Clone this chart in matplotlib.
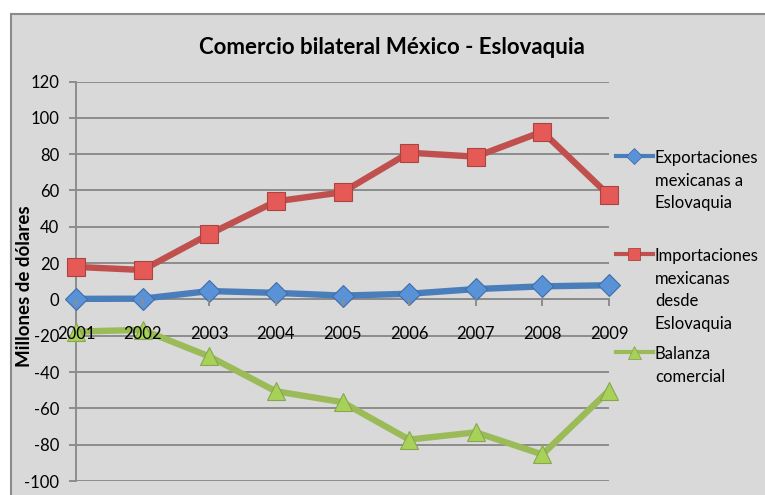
import matplotlib.pyplot as plt
from matplotlib.lines import Line2D
from matplotlib.patches import Rectangle

plt.rcParams['font.family'] = ['Lato', 'DejaVu Sans']
plt.rcParams['axes.unicode_minus'] = False

# datos (millones de dolares)
years = [2001, 2002, 2003, 2004, 2005, 2006, 2007, 2008, 2009]
exportaciones = [0.3, 0.4, 4.6, 3.6, 2.1, 3.1, 5.7, 7.2, 7.8]
importaciones = [17.9, 16.2, 35.9, 54.0, 59.0, 80.8, 78.6, 92.4, 57.3]
balanza = [-17.7, -16.8, -31.4, -50.6, -56.6, -77.2, -73.2, -85.4, -50.2]

labels = ['Exportaciones\nmexicanas a\nEslovaquia',
          'Importaciones\nmexicanas\ndesde\nEslovaquia',
          'Balanza\ncomercial']

W, H = 765, 495
fig = plt.figure(figsize=(W / 100, H / 100), dpi=100)
fig.patch.set_facecolor('white')
# fondo gris del grafico
fig.add_artist(Rectangle((11 / W, -0.01), 1.0, (H - 14) / H + 0.01,
                         transform=fig.transFigure, facecolor='#d9d9d9',
                         edgecolor='#8a8a8a', linewidth=1.5, zorder=-5))

ax = fig.add_axes([76 / W, (H - 481) / H, (609 - 76) / W, (481 - 81.5) / H])
ax.set_facecolor('none')

grid_c = '#8c8c8c'
ax.set_ylim(-100, 120)
ax.set_yticks(range(-100, 121, 20))
ax.set_xlim(2001, 2009)
ax.set_xticks(years)
ax.yaxis.grid(True, color=grid_c, linewidth=1.4)
ax.set_axisbelow(True)
for s in ['top', 'right']:
    ax.spines[s].set_visible(False)
ax.spines['left'].set_color(grid_c)
ax.spines['left'].set_linewidth(1.4)
ax.spines['bottom'].set_position(('data', 0))
ax.spines['bottom'].set_color(grid_c)
ax.spines['bottom'].set_linewidth(1.4)
ax.tick_params(axis='y', length=5, width=1.4, color=grid_c, labelsize=12, pad=7)
ax.tick_params(axis='x', length=5, width=1.4, color=grid_c, labelsize=12,
               direction='out', pad=14)
ax.xaxis.set_zorder(5)

series = [
    (exportaciones, '#4a7ebb', 'D', '#5a92d8', '#3f6ea8', 11),
    (importaciones, '#c0504d', 's', '#e55a56', '#a94441', 12.5),
    (balanza, '#9bbb59', '^', '#a8d15a', '#86a84a', 13),
]
for vals, c, m, fc, ec, ms in series:
    ax.plot(years, vals, color=c, linewidth=4.6, marker=m, markersize=ms,
            markerfacecolor=fc, markeredgecolor=ec, markeredgewidth=0.8,
            clip_on=False, zorder=3)

fig.text(392 / W, 1 - 48 / H, 'Comercio bilateral México - Eslovaquia',
         ha='center', va='center', fontsize=16, fontweight='bold')
fig.text(25 / W, 1 - 286 / H, 'Millones de dólares', rotation=90,
         ha='center', va='center', fontsize=13.5, fontweight='bold')

# leyenda a la derecha
line_h = 22.7
first_y = [156, 254, 352]
for (vals, c, m, fc, ec, ms), lab, y0 in zip(series, labels, first_y):
    yf = 1 - y0 / H
    fig.add_artist(Line2D([616 / W, 653 / W], [yf, yf], color=c, linewidth=3,
                          transform=fig.transFigure))
    fig.add_artist(Line2D([634 / W], [yf], color=c, marker=m, markersize=ms * 0.72,
                          markerfacecolor=fc, markeredgecolor=ec,
                          markeredgewidth=0.6, transform=fig.transFigure))
    for k, txt in enumerate(lab.split('\n')):
        fig.text(655 / W, 1 - (y0 + 2 + k * line_h) / H, txt,
                 ha='left', va='center', fontsize=12)

fig.savefig('out.png', dpi=100)
